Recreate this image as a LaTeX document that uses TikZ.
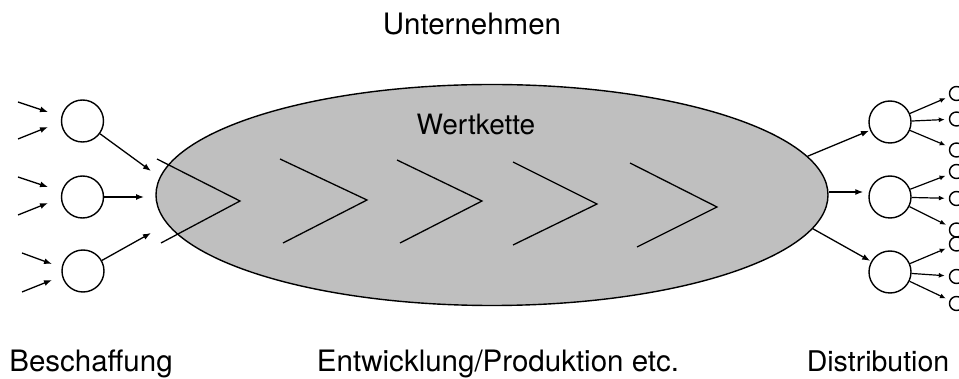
\documentclass[tikz,border=0pt]{standalone}
\usepackage{fontspec}
\setmainfont{TeX Gyre Heros}
\usetikzlibrary{arrows.meta,shapes.geometric}
\begin{document}
\begin{tikzpicture}[x=1pt,y=-1pt,
  lbl/.style={font=\fontsize{29.5}{34}\selectfont, anchor=base, inner sep=0},
  circ/.style={circle, draw, line width=1.4pt, minimum size=42pt, inner sep=0},
  tiny/.style={circle, draw, line width=1.4pt, minimum size=14pt, inner sep=0},
  arr/.style={line width=1.3pt, -{Latex[length=8pt,width=6pt]}},
  chev/.style={line width=1.3pt},
]
\useasboundingbox (0,0) rectangle (959,379);
\clip (0,0) rectangle (959,379);
% ellipse
\node[ellipse, draw, line width=1.4pt, fill=black!25, minimum width=672pt, minimum height=221pt, inner sep=0] (ell) at (492,195) {};
% chevrons
\draw[chev] (157,159) -- (240,201) -- (161,243);
\draw[chev] (280,159) -- (367,200) -- (283,243);
\draw[chev] (397,160) -- (482,201) -- (400,243);
\draw[chev] (513,162) -- (597,204) -- (513,245);
\draw[chev] (630,163) -- (717,207) -- (637,247);
% texts
\node[lbl] (unt) at (472,35) {Unternehmen};
\node[lbl, font=\fontsize{28}{32}\selectfont] (wert) at (476,135) {Wertkette};
\node[lbl] (bes) at (91,372) {Beschaffung};
\node[lbl] (ent) at (498,372) {Entwicklung/Produktion etc.};
\node[lbl, font=\fontsize{28.5}{34}\selectfont] (dis) at (878,372) {Distribution};
% left circles
\node[circ] (l1) at (82.5,121) {};
\node[circ] (l2) at (82.5,197) {};
\node[circ] (l3) at (83,271) {};
% incoming arrows (free ends)
\coordinate (i1a) at (18,102); \coordinate (i1b) at (18,139);
\coordinate (i2a) at (18,177); \coordinate (i2b) at (18,215);
\coordinate (i3a) at (22,253); \coordinate (i3b) at (22,292);
\coordinate (j1a) at (48,112); \coordinate (j1b) at (48,127);
\coordinate (j2a) at (48,187); \coordinate (j2b) at (48,203);
\coordinate (j3a) at (52,264); \coordinate (j3b) at (52,280);
\draw[arr] (i1a) -- (j1a);
\draw[arr] (i1b) -- (j1b);
\draw[arr] (i2a) -- (j2a);
\draw[arr] (i2b) -- (j2b);
\draw[arr] (i3a) -- (j3a);
\draw[arr] (i3b) -- (j3b);
% circles to ellipse
\coordinate (e1) at (151,171);
\coordinate (e2) at (144,197);
\coordinate (e3) at (151,233);
\draw[arr] (l1) -- (e1);
\draw[arr] (l2) -- (e2);
\draw[arr] (l3) -- (e3);
% right circles
\node[circ] (r1) at (890,122) {};
\node[circ] (r2) at (890,197) {};
\node[circ] (r3) at (890,272) {};
\draw[arr, shorten >=1pt] (ell.7.5) -- (r1);
\draw[arr, shorten >=5pt] (ell.east) ++(0,-3) coordinate (em) -- (em -| r2.west);
\draw[arr, shorten >=1pt] (ell.-6.5) -- (r3);
% tiny circles
\node[tiny] (s1) at (956.5,93.5) {};
\node[tiny] (s2) at (956.5,119) {};
\node[tiny] (s3) at (956.5,150) {};
\node[tiny] (s4) at (956.5,171.5) {};
\node[tiny] (s5) at (956.5,198.5) {};
\node[tiny] (s6) at (956.5,230) {};
\node[tiny] (s7) at (956.5,244) {};
\node[tiny] (s8) at (956.5,276.5) {};
\node[tiny] (s9) at (956.5,303.5) {};
\foreach \r/\s in {r1/s1,r1/s2,r1/s3,r2/s4,r2/s5,r2/s6,r3/s7,r3/s8,r3/s9}
  \draw[arr, line width=1.2pt, -{Latex[length=6pt,width=5pt]}, shorten >=4pt] (\r) -- (\s);
\end{tikzpicture}
\end{document}
